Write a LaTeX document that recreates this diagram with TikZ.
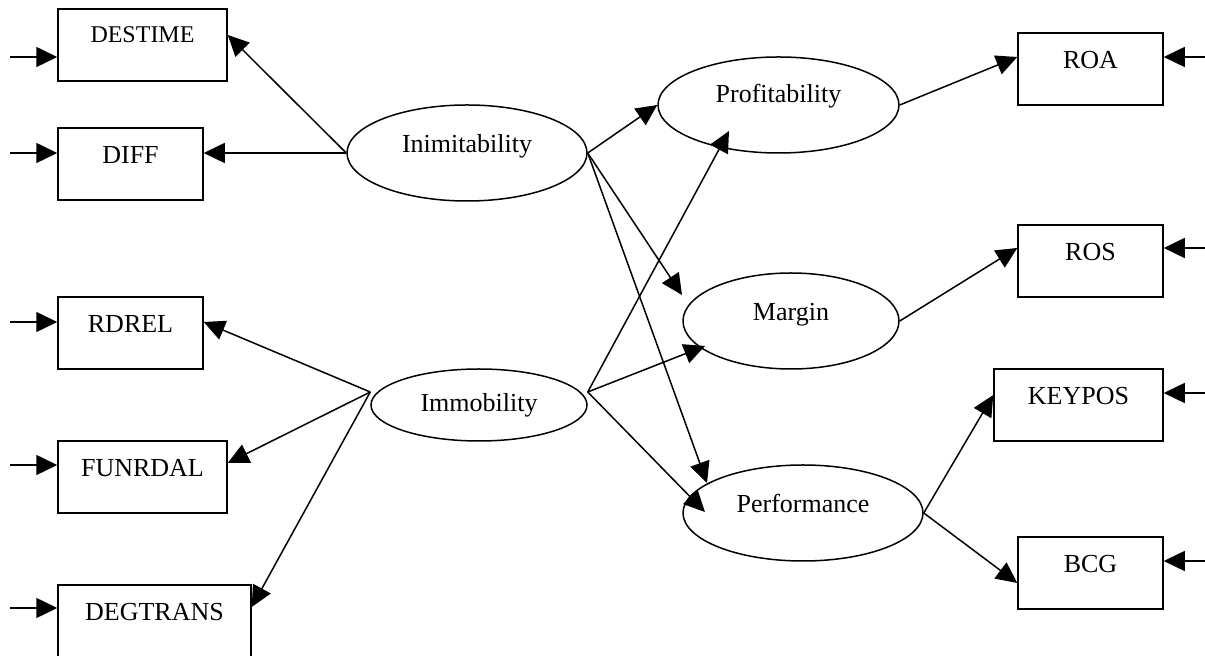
\documentclass[tikz,border=0pt]{standalone}
\usepackage{fontspec}
\setmainfont{Liberation Serif}
\usetikzlibrary{arrows.meta,shapes.geometric}
\begin{document}
\begin{tikzpicture}[x=0.5pt,y=-0.5pt,
  line width=0.75pt,
  box/.style={draw, rectangle, inner sep=0pt, minimum height=36pt,
    text height=18pt, text depth=18pt, font=\fontsize{13pt}{15pt}\selectfont},
  latent/.style={draw, ellipse, inner sep=0pt, minimum height=48pt,
    text height=8pt, text depth=8pt, font=\fontsize{13pt}{15pt}\selectfont},
  arr/.style={-{Triangle[length=10.5pt,width=10pt]}}]
\useasboundingbox (0,0) rectangle (1205,656);
% observed indicators
\node[box, minimum width=84.5pt, text height=17pt, text depth=19pt,
  font=\fontsize{12pt}{14pt}\selectfont] (destime) at (142.5,45) {DESTIME\hspace{11pt}};
\node[box, minimum width=72.5pt] (diff) at (130.5,164) {DIFF};
\node[box, minimum width=72.5pt] (rdrel) at (130.5,333) {RDREL};
\node[box, minimum width=84.5pt] (funrdal) at (142.5,477) {FUNRDAL};
\node[box, minimum width=96.5pt] (degtrans) at (154.5,621) {DEGTRANS};
\node[box, minimum width=72.5pt] (roa) at (1090.5,69) {ROA};
\node[box, minimum width=72.5pt] (ros) at (1090.5,261) {ROS};
\node[box, minimum width=84.5pt] (keypos) at (1078.5,405) {KEYPOS};
\node[box, minimum width=72.5pt] (bcg) at (1090.5,573) {BCG};
% latent variables
\node[latent, minimum width=120pt] (inim) at (467,153) {Inimitability\hspace{4pt}};
\node[latent, minimum width=120.5pt, text height=7pt, text depth=9pt] (prof) at (778.5,105) {Profitability\hspace{6pt}};
\node[latent, minimum width=108pt] (margin) at (791,321) {Margin\hspace{22pt}};
\node[latent, minimum width=120pt] (perf) at (803,513) {Performance\hspace{2.5pt}};
\node[latent, minimum width=108pt, minimum height=36pt, text height=11.5pt, text depth=4.5pt] (immob) at (479,405) {Immobility\hspace{2.5pt}};
% error inputs
\coordinate (e1) at (10,57);
\coordinate (e2) at (10,153);
\coordinate (e3) at (10,322);
\coordinate (e4) at (10,465);
\coordinate (e5) at (10,608);
\coordinate (e6) at (1205,57);
\coordinate (e7) at (1205,248);
\coordinate (e8) at (1205,393);
\coordinate (e9) at (1205,561);
\draw[arr] (e1) -- (e1 -| destime.west);
\draw[arr] (e2) -- (e2 -| diff.west);
\draw[arr] (e3) -- (e3 -| rdrel.west);
\draw[arr] (e4) -- (e4 -| funrdal.west);
\draw[arr] (e5) -- (e5 -| degtrans.west);
\draw[arr] (e6) -- (e6 -| roa.east);
\draw[arr] (e7) -- (e7 -| ros.east);
\draw[arr] (e8) -- (e8 -| keypos.east);
\draw[arr] (e9) -- (e9 -| bcg.east);
% Inimitability
\draw[arr] (inim.west) -- ([yshift=5pt]destime.east);
\draw[arr] (inim.west) -- (inim.west -| diff.east);
\draw[arr] (inim.east) -- (prof.west);
\draw[arr] (inim.east) -- ([shift={(-54.5pt,13pt)}]margin.center);
\draw[arr] (inim.east) -- ([shift={(-48pt,15pt)}]perf.center);
% Immobility
\coordinate (imw) at ([yshift=6.5pt]immob.west);
\coordinate (ime) at ([yshift=6.5pt]immob.east);
\draw[arr] (imw) -- ([yshift=5.5pt]rdrel.east);
\draw[arr] (imw) -- ([yshift=7pt]funrdal.east);
\draw[arr] (imw) -- ([yshift=7pt]degtrans.east);
\draw[arr] (ime) -- ([shift={(-24.75pt,-13pt)}]prof.center);
\draw[arr] (ime) -- ([shift={(-43pt,-12.5pt)}]margin.center);
\draw[arr] (ime) -- ([shift={(-49pt,0.5pt)}]perf.center);
% outcomes
\draw[arr] (prof.east) -- ([yshift=6pt]roa.west);
\draw[arr] (margin.east) -- ([yshift=6.5pt]ros.west);
\draw[arr] (perf.east) -- ([yshift=5pt]keypos.west);
\draw[arr] (perf.east) -- ([yshift=-5pt]bcg.west);
\end{tikzpicture}
\end{document}
